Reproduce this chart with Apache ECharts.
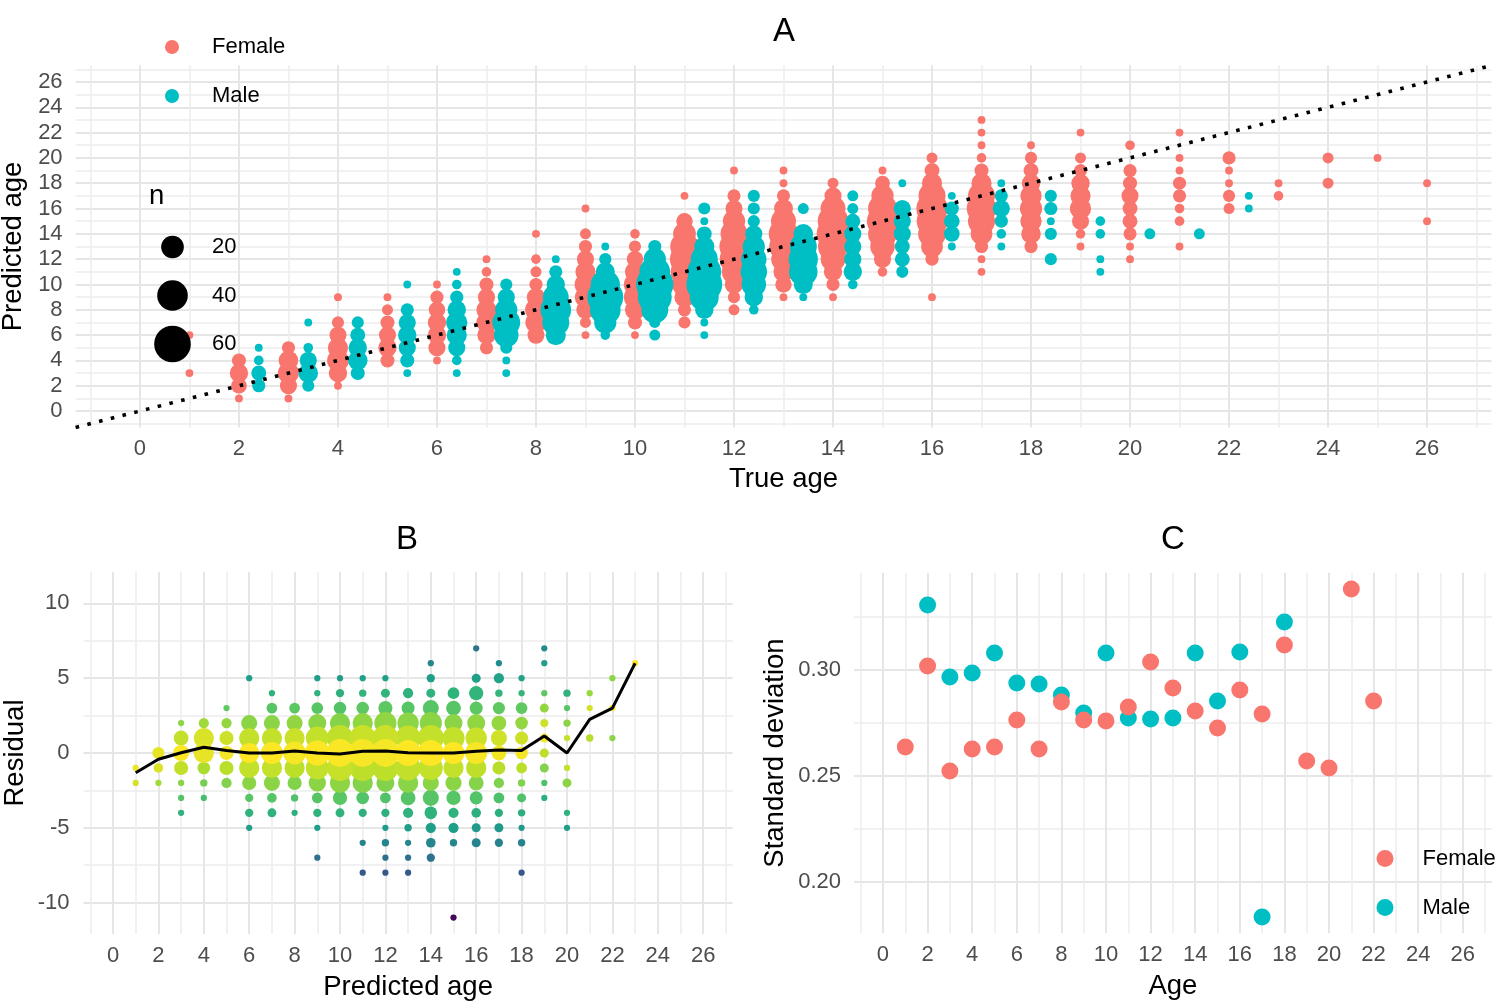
<!DOCTYPE html>
<html>
<head>
<meta charset="utf-8">
<script src="https://cdn.jsdelivr.net/npm/echarts@6/dist/echarts.min.js"></script>
<style>html,body{margin:0;padding:0;background:#fff}#c{width:1500px;height:1006px}</style>
</head>
<body>
<div id="c"></div>
<script>
// ================= DATA =================
// Panel A: [true age, predicted age, n]
const femaleA = [
  [1,3,1],[1,6,1],
  [2,1,1],[2,2,8],[2,3,12],[2,4,6],
  [3,1,1],[3,2,10],[3,3,17],[3,4,14],[3,5,5],
  [4,2,1],[4,3,12],[4,4,18],[4,5,15],[4,6,10],[4,7,4],[4,9,1],
  [5,4,6],[5,5,12],[5,6,10],[5,7,6],[5,8,3],[5,9,1],
  [6,4,1],[6,5,10],[6,6,12],[6,7,12],[6,8,9],[6,9,5],[6,10,1],
  [7,5,5],[7,6,12],[7,7,15],[7,8,15],[7,9,10],[7,10,6],[7,11,2],[7,12,1],
  [8,6,10],[8,7,17],[8,8,18],[8,9,12],[8,10,5],[8,11,3],[8,12,2],[8,14,1],
  [9,6,1],[9,7,3],[9,8,12],[9,9,17],[9,10,18],[9,11,15],[9,12,10],[9,13,5],[9,14,3],[9,16,1],
  [10,6,1],[10,7,6],[10,8,15],[10,9,19],[10,10,19],[10,11,15],[10,12,9],[10,13,4],[10,14,2],
  [11,7,4],[11,8,5],[11,9,15],[11,10,24],[11,11,32],[11,12,36],[11,13,34],[11,14,20],[11,15,9],[11,17,1],
  [12,8,3],[12,9,4],[12,10,12],[12,11,24],[12,12,34],[12,13,36],[12,14,30],[12,15,19],[12,16,10],[12,17,5],[12,19,1],
  [13,9,1],[13,10,9],[13,11,15],[13,12,24],[13,13,34],[13,14,37],[13,15,25],[13,16,13],[13,17,5],[13,18,1],[13,19,1],
  [14,9,1],[14,10,5],[14,11,12],[14,12,24],[14,13,38],[14,14,46],[14,15,40],[14,16,25],[14,17,10],[14,18,3],
  [15,11,2],[15,12,10],[15,13,24],[15,14,35],[15,15,42],[15,16,35],[15,17,19],[15,18,7],[15,19,1],
  [16,9,1],[16,12,5],[16,13,18],[16,14,32],[16,15,40],[16,16,42],[16,17,30],[16,18,15],[16,19,7],[16,20,3],
  [17,11,1],[17,12,1],[17,13,5],[17,14,18],[17,15,30],[17,16,37],[17,17,30],[17,18,15],[17,19,6],[17,20,2],[17,21,1],[17,22,1],[17,23,1],
  [18,13,5],[18,14,14],[18,15,17],[18,16,19],[18,17,17],[18,18,12],[18,19,7],[18,20,4],[18,21,1],
  [19,13,1],[19,14,2],[19,15,10],[19,16,17],[19,17,15],[19,18,12],[19,19,5],[19,20,3],[19,22,1],
  [20,12,1],[20,13,1],[20,14,5],[20,15,7],[20,16,7],[20,17,10],[20,18,6],[20,19,5],[20,21,2],
  [21,13,1],[21,15,2],[21,16,2],[21,17,5],[21,18,5],[21,19,1],[21,20,1],[21,22,1],
  [22,16,3],[22,17,4],[22,18,1],[22,19,1],[22,20,5],
  [23,17,2],[23,18,1],
  [24,18,3],[24,20,3],
  [25,20,1],
  [26,15,1],[26,18,1]
];
const maleA = [
  [2,2,5],[2,3,7],[2,4,2],[2,5,1],
  [3,2,4],[3,3,14],[3,4,10],[3,5,2],[3,7,1],
  [4,3,6],[4,4,14],[4,5,12],[4,6,7],[4,7,4],
  [5,3,1],[5,4,6],[5,5,10],[5,6,12],[5,7,10],[5,8,5],[5,10,1],
  [6,3,1],[6,4,2],[6,5,10],[6,6,15],[6,7,17],[6,8,12],[6,9,5],[6,10,2],[6,11,1],
  [7,3,1],[7,4,1],[7,5,4],[7,6,24],[7,7,32],[7,8,19],[7,9,10],[7,10,4],
  [8,6,15],[8,7,30],[8,8,40],[8,9,27],[8,10,12],[8,11,5],[8,12,1],
  [9,6,2],[9,7,19],[9,8,40],[9,9,57],[9,10,36],[9,11,13],[9,12,4],[9,13,1],
  [10,6,3],[10,7,3],[10,8,30],[10,9,50],[10,10,62],[10,11,40],[10,12,19],[10,13,5],
  [11,6,1],[11,7,1],[11,8,12],[11,9,35],[11,10,57],[11,11,50],[11,12,30],[11,13,15],[11,14,7],[11,15,1],[11,16,4],
  [12,8,2],[12,9,12],[12,10,24],[12,11,29],[12,12,26],[12,13,19],[12,14,10],[12,15,4],[12,16,4],[12,17,4],
  [13,9,1],[13,10,13],[13,11,34],[13,12,36],[13,13,30],[13,14,14],[13,16,3],
  [14,10,2],[14,11,12],[14,12,10],[14,13,10],[14,14,10],[14,15,7],[14,16,3],[14,17,3],
  [15,11,4],[15,12,7],[15,13,7],[15,14,10],[15,15,10],[15,16,10],[15,18,1],
  [16,13,1],[16,14,8],[16,15,8],[16,16,6],[16,17,1],
  [17,13,1],[17,14,2],[17,15,5],[17,16,10],[17,17,5],[17,18,1],
  [18,12,4],[18,14,4],[18,15,1],[18,16,5],[18,17,4],
  [19,11,1],[19,12,1],[19,14,2],[19,15,2],
  [20,14,3],
  [21,14,3],
  [22,16,1],[22,17,1]
];
const sizeLegendA = [20, 40, 60];

// Panel B: [predicted age, residual, n]
const residB = [
  [1,-1,1],[1,-2,1],
  [2,0,10],[2,-1,5],[2,-2,1],
  [3,2,1],[3,1,17],[3,0,21],[3,-1,15],[3,-2,1],[3,-3,1],[3,-4,1],
  [4,2,6],[4,1,37],[4,0,37],[4,-1,11],[4,-2,2],[4,-3,1],
  [5,3,1],[5,2,6],[5,1,15],[5,0,15],[5,-1,15],[5,-2,6],
  [6,5,1],[6,2,21],[6,1,37],[6,0,37],[6,-1,37],[6,-2,15],[6,-3,3],[6,-4,3],[6,-5,1],
  [7,4,1],[7,3,7],[7,2,21],[7,1,37],[7,0,46],[7,-1,37],[7,-2,21],[7,-3,5],[7,-4,4],
  [8,3,7],[8,2,21],[8,1,37],[8,0,50],[8,-1,37],[8,-2,15],[8,-3,2],[8,-4,1],
  [9,5,1],[9,4,1],[9,3,9],[9,2,28],[9,1,50],[9,0,62],[9,-1,50],[9,-2,25],[9,-3,7],[9,-4,3],[9,-5,1],[9,-7,1],
  [10,5,1],[10,4,3],[10,3,11],[10,2,37],[10,1,67],[10,0,78],[10,-1,67],[10,-2,37],[10,-3,15],[10,-4,4],
  [11,5,1],[11,4,2],[11,3,11],[11,2,37],[11,1,67],[11,0,78],[11,-1,67],[11,-2,37],[11,-3,11],[11,-4,3],[11,-6,1],[11,-8,1],
  [12,5,1],[12,4,4],[12,3,15],[12,2,46],[12,1,67],[12,0,78],[12,-1,67],[12,-2,28],[12,-3,7],[12,-4,3],[12,-5,1],[12,-6,2],[12,-7,1],[12,-8,1],
  [13,4,6],[13,3,12],[13,2,42],[13,1,62],[13,0,67],[13,-1,62],[13,-2,37],[13,-3,17],[13,-4,6],[13,-5,2],[13,-6,1],[13,-7,1],[13,-8,1],
  [14,6,1],[14,5,3],[14,4,4],[14,3,21],[14,2,46],[14,1,67],[14,0,67],[14,-1,56],[14,-2,21],[14,-3,21],[14,-4,11],[14,-5,6],[14,-6,5],[14,-7,3],
  [15,4,9],[15,3,17],[15,2,28],[15,1,46],[15,0,46],[15,-1,37],[15,-2,21],[15,-3,15],[15,-4,6],[15,-5,6],[15,-6,2],[15,-11,1],
  [16,7,1],[16,5,4],[16,4,15],[16,3,12],[16,2,28],[16,1,42],[16,0,46],[16,-1,37],[16,-2,17],[16,-3,12],[16,-4,5],[16,-5,4],[16,-6,4],
  [17,6,1],[17,5,6],[17,4,2],[17,3,10],[17,2,17],[17,1,21],[17,0,17],[17,-1,12],[17,-2,6],[17,-3,7],[17,-4,3],[17,-5,4],[17,-6,3],
  [18,5,1],[18,4,1],[18,3,9],[18,2,11],[18,1,12],[18,0,11],[18,-1,7],[18,-2,2],[18,-3,4],[18,-4,2],[18,-5,1],[18,-6,2],[18,-8,1],
  [19,7,1],[19,6,1],[19,4,1],[19,3,4],[19,2,3],[19,1,4],[19,0,4],[19,-1,4],[19,-2,1],[19,-3,1],
  [20,4,2],[20,3,1],[20,2,2],[20,1,1],[20,-1,1],[20,-2,4],[20,-4,1],[20,-5,1],
  [21,4,1],[21,3,1],[21,1,2],
  [22,5,1],[22,3,1],[22,1,1],
  [23,6,1]
];
const meanPredB  = [1,2,3,4,5,6,7,8,9,10,11,12,13,14,15,16,17,18,19,20,21,22,23];
const meanResidB = [-1.32,-0.42,0.02,0.38,0.16,0.0,0.0,0.13,0.0,-0.07,0.11,0.13,0.02,0.0,0.0,0.11,0.2,0.16,1.14,0.0,2.25,3.0,6.0];

// Panel C
const ageFemaleC = [1,2,3,4,5,6,7,8,9,10,11,12,13,14,15,16,17,18,19,20,21,22];
const sdFemaleC  = [0.2637,0.3019,0.2524,0.2627,0.2637,0.2764,0.2627,0.2849,0.2764,0.2760,0.2825,0.3038,0.2915,0.2807,0.2726,0.2906,0.2792,0.3118,0.2571,0.2538,0.3382,0.2854];
const ageMaleC   = [2,3,4,5,6,7,8,9,10,11,12,13,14,15,16,17,18];
const sdMaleC    = [0.3307,0.2967,0.2986,0.3080,0.2939,0.2934,0.2882,0.2797,0.3080,0.2774,0.2769,0.2774,0.3080,0.2854,0.3085,0.1835,0.3226];

// Tick labels
const ageTicks   = [0,2,4,6,8,10,12,14,16,18,20,22,24,26];
const ageMinor   = [-1,1,3,5,7,9,11,13,15,17,19,21,23,25,27];
const residTicks = [-10,-5,0,5,10];
const residMinor = [-7.5,-2.5,2.5,7.5];
const sdTicks    = [0.20,0.25,0.30];
const sdMinor    = [0.225,0.275,0.325];

// ================= STYLE / LAYOUT =================
const FONT = "'Liberation Sans', Arial, Helvetica, sans-serif";
const COL_F = '#F8766D', COL_M = '#00BFC4';
const GRID_MAJOR = '#e6e6e6', GRID_MINOR = '#ededed';
const AGE_MIN = -1.3, AGE_MAX = 27.3;
const DODGE = 0.4;
const viridisRev = ['#fde725','#b5de2b','#6ece58','#35b779','#1f9e89','#26828e','#31688e','#3e4989','#482878','#440154'];
function sizeA(n){ return 3.6 + 4.27*Math.sqrt(n); }
function sizeB(n){ return 3.5 + 2.75*Math.sqrt(n); }

function axisPair(kind, gridIndex, min, max, major, minor, o) {
  const pos = kind === 'x' ? 'bottom' : 'left';
  const main = {
    type:'value', gridIndex, min, max, position: pos,
    axisLine:{show:false}, axisTick:{show:false, customValues: major},
    axisLabel:{customValues: major, color:'#4d4d4d', fontSize:22, fontFamily:FONT, margin:o.margin, formatter:o.fmt},
    splitLine:{show:true, lineStyle:{color:GRID_MAJOR, width:2}},
    name:o.name, nameLocation:'middle', nameGap:o.nameGap,
    nameTextStyle:{fontSize:27.5, color:'#000', fontFamily:FONT}
  };
  const mnr = {
    type:'value', gridIndex, min, max, position: pos,
    axisLine:{show:false}, axisTick:{show:false, customValues: minor},
    axisLabel:{show:false, customValues: minor},
    splitLine:{show:true, lineStyle:{color:GRID_MINOR, width:1.5}}
  };
  return [main, mnr];
}

const meanMap = {};
meanPredB.forEach((p,i)=>{ meanMap[p] = meanResidB[i]; });
const bData = residB.map(d => [d[0], d[1], d[2], Math.abs(d[1] - meanMap[d[0]])])
                    .sort((a,b)=> b[3]-a[3]);

const xAxes = [].concat(
  axisPair('x',0,AGE_MIN,AGE_MAX,ageTicks,ageMinor,{margin:10,name:'True age',nameGap:38}),
  axisPair('x',1,AGE_MIN,AGE_MAX,ageTicks,ageMinor,{margin:11,name:'Predicted age',nameGap:39}),
  axisPair('x',2,AGE_MIN,AGE_MAX,ageTicks,ageMinor,{margin:11,name:'Age',nameGap:39})
);
const yAxes = [].concat(
  axisPair('y',0,AGE_MIN,AGE_MAX,ageTicks,ageMinor,{margin:13,name:'Predicted age',nameGap:47}),
  axisPair('y',1,-12.1,12.1,residTicks,residMinor,{margin:14,name:'Residual',nameGap:54}),
  axisPair('y',2,0.1758,0.3459,sdTicks,sdMinor,{margin:13,name:'Standard deviation',nameGap:65,fmt:v=>Number(v).toFixed(2)})
);

const sizeLegendGraphics = [];
sizeLegendGraphics.push({type:'text', z:100, x:149, y:196, style:{text:'n', font:'27.5px '+FONT, fill:'#000', verticalAlign:'middle'}});
const legYs = [247, 295.5, 344];
sizeLegendA.forEach((n,i)=>{
  sizeLegendGraphics.push({type:'circle', z:100, shape:{cx:172.5, cy:legYs[i], r:sizeA(n)/2}, style:{fill:'#000'}});
  sizeLegendGraphics.push({type:'text', z:100, x:212, y:legYs[i], style:{text:String(n), font:'22px '+FONT, fill:'#000', verticalAlign:'middle'}});
});

const option = {
  backgroundColor:'#fff',
  animation:false,
  textStyle:{fontFamily:FONT},
  grid:[
    {left:75.6, top:65.5, width:1415.8, height:362, outerBoundsMode:'none', containLabel:false},
    {left:83.5, top:572, width:649.2, height:362, outerBoundsMode:'none', containLabel:false},
    {left:854, top:572.7, width:637.8, height:360.6, outerBoundsMode:'none', containLabel:false}
  ],
  xAxis: xAxes,
  yAxis: yAxes,
  legend:[
    {data:['Female','Male'], orient:'vertical', left:165, top:36, padding:0, itemGap:27, itemWidth:14, itemHeight:14,
     selectedMode:false, textStyle:{fontSize:22, lineHeight:14, color:'#000', fontFamily:FONT, padding:[0,0,0,28]}},
    {data:['Female','Male'], orient:'vertical', left:1376.5, top:847.5, padding:0, itemGap:27, itemWidth:17, itemHeight:17,
     selectedMode:false, textStyle:{fontSize:22, lineHeight:17, color:'#000', fontFamily:FONT, padding:[0,0,0,24]}}
  ],
  visualMap:[{type:'continuous', show:false, seriesIndex:3, dimension:3, min:0, max:11.2, inRange:{color:viridisRev}}],
  graphic: [
    {type:'text', z:100, x:784, y:32, style:{text:'A', font:'33px '+FONT, fill:'#000', align:'center', verticalAlign:'middle'}},
    {type:'text', z:100, x:407, y:540, style:{text:'B', font:'33px '+FONT, fill:'#000', align:'center', verticalAlign:'middle'}},
    {type:'text', z:100, x:1173, y:540, style:{text:'C', font:'33px '+FONT, fill:'#000', align:'center', verticalAlign:'middle'}}
  ].concat(sizeLegendGraphics),
  series:[
    {type:'scatter', name:'Female', xAxisIndex:0, yAxisIndex:0, data: femaleA.map(d=>[d[0], d[1], d[2]]),
     symbolSize: v=>sizeA(v[2]), itemStyle:{color:COL_F, opacity:1}, emphasis:{disabled:true}, z:2},
    {type:'scatter', name:'Male', xAxisIndex:0, yAxisIndex:0, data: maleA.map(d=>[d[0]+DODGE, d[1], d[2]]),
     symbolSize: v=>sizeA(v[2]), itemStyle:{color:COL_M, opacity:1}, emphasis:{disabled:true}, z:3},
    {type:'line', xAxisIndex:0, yAxisIndex:0, data:[[AGE_MIN,AGE_MIN],[AGE_MAX,AGE_MAX]], symbol:'none', silent:true,
     lineStyle:{color:'#000', width:3.6, type:[3.6,8.5], cap:'butt'}, z:5},
    {type:'scatter', xAxisIndex:2, yAxisIndex:2, data:bData, symbolSize: v=>sizeB(v[2]),
     itemStyle:{opacity:1}, emphasis:{disabled:true}, z:2},
    {type:'line', xAxisIndex:2, yAxisIndex:2, data: meanPredB.map((p,i)=>[p, meanResidB[i]]), symbol:'none', silent:true,
     lineStyle:{color:'#000', width:3}, z:5},
    {type:'scatter', name:'Male', xAxisIndex:4, yAxisIndex:4, data: ageMaleC.map((a,i)=>[a, sdMaleC[i]]),
     symbolSize:17, itemStyle:{color:COL_M, opacity:1}, emphasis:{disabled:true}, z:2},
    {type:'scatter', name:'Female', xAxisIndex:4, yAxisIndex:4, data: ageFemaleC.map((a,i)=>[a, sdFemaleC[i]]),
     symbolSize:17, itemStyle:{color:COL_F, opacity:1}, emphasis:{disabled:true}, z:3}
  ]
};
const chart = echarts.init(document.getElementById('c'), null, {renderer:'canvas'});
chart.setOption(option);
</script>
</body>
</html>
